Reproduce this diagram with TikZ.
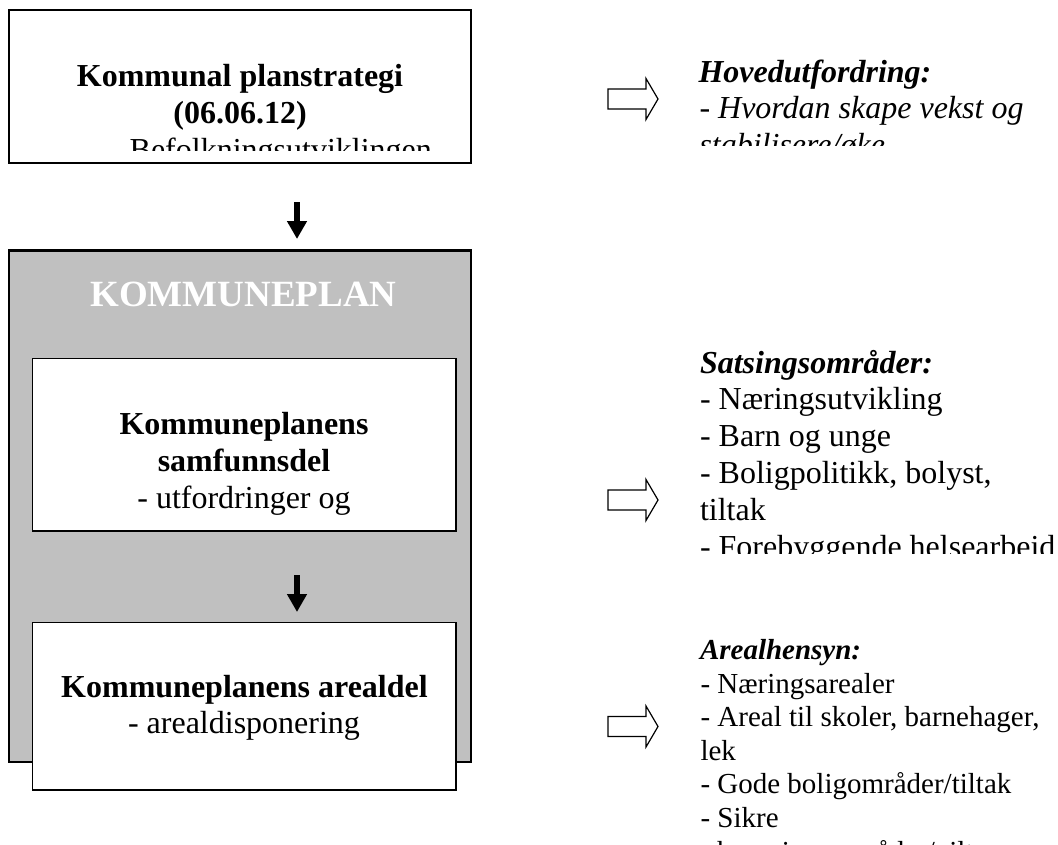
\documentclass[tikz,border=0pt]{standalone}
\usepackage{fontspec}
\setmainfont{Liberation Serif}
\usetikzlibrary{arrows.meta}
\definecolor{panelgray}{RGB}{192,192,192}
\begin{document}
\begin{tikzpicture}[x=1pt,y=-1pt,
  outerbox/.style={draw, line width=2.4pt, rectangle, inner sep=0pt, outer sep=0pt, anchor=north west},
  innerbox/.style={draw, line width=1.7pt, rectangle, inner sep=0pt, outer sep=0pt, anchor=north west, fill=white},
  big/.style={font=\fontsize{32}{36.8}\selectfont, inner sep=0pt, outer sep=0pt},
  small/.style={font=\fontsize{29}{33.6}\selectfont, inner sep=0pt, outer sep=0pt},
  downarrow/.style={line width=6pt, -{Triangle[length=18pt,width=19pt]}},
  hollowarrow/.pic={\draw[line width=1.2pt, fill=white, line join=miter]
     (0,-10)--(38,-10)--(38,-20.5)--(50,0)--(38,20.5)--(38,10)--(0,10)--cycle;}
]
\useasboundingbox (0,0) rectangle (1058,844);

% boxes
\node[outerbox, fill=white, minimum width=462pt, minimum height=153pt] (strat) at (9,10) {};
\node[outerbox, fill=panelgray, minimum width=462pt, minimum height=511.2pt] (plan) at (9,250.5) {};
\node[innerbox, minimum width=423.3pt, minimum height=172.5pt] (samf) at (32.5,358.5) {};
\node[innerbox, minimum width=423.3pt, minimum height=167.7pt] (areal) at (32.5,622.5) {};

% down arrows
\coordinate (a1s) at (297,202);
\coordinate (a1e) at (297,239);
\draw[downarrow] (a1s) -- (a1e);
\coordinate (a2s) at (297,575);
\coordinate (a2e) at (297,612);
\draw[downarrow] (a2s) -- (a2e);

% hollow arrows
\pic at (608,99) {hollowarrow};
\pic at (608,500) {hollowarrow};
\pic at (608,726.5) {hollowarrow};

% top box text
\begin{scope}
\clip (9,10) rectangle (471,150);
\node[big, anchor=base] (st1) at (240,86) {\textbf{Kommunal planstrategi}};
\node[big, anchor=base] (st2) at (240,123) {\textbf{(06.06.12)}};
\node[big, anchor=base west] (st3) at (111,160) {- Befolkningsutviklingen};
\end{scope}

% KOMMUNEPLAN
\node[inner sep=0pt, anchor=base, text=white, font=\fontsize{37}{42}\selectfont\bfseries] (kp) at (243.5,306.7) {KOMMUNEPLAN};

% samfunnsdel
\node[big, anchor=base] (sa1) at (244,434.3) {\textbf{Kommuneplanens}};
\node[big, anchor=base] (sa2) at (244,471.5) {\textbf{samfunnsdel}};
\node[big, anchor=base] (sa3) at (244,508.3) {- utfordringer og};

% arealdel
\node[big, anchor=base] (ar1) at (244.5,697) {\textbf{Kommuneplanens arealdel}};
\node[big, anchor=base] (ar2) at (244,733) {- arealdisponering};

% right top
\begin{scope}
\clip (680,30) rectangle (1058,145);
\node[big, anchor=base west] (h1) at (698.5,82) {\textbf{\textit{Hovedutfordring:}}};
\node[big, anchor=base west] (h2) at (699.5,118.8) {\textit{- Hvordan skape vekst og}};
\node[big, anchor=base west] (h3) at (699.5,155.6) {\textit{stabilisere/øke}};
\end{scope}

% right middle
\begin{scope}
\clip (680,330) rectangle (1058,553);
\node[big, anchor=base west] (s0) at (700,373) {\textbf{\textit{Satsingsområder:}}};
\node[big, anchor=base west] (s1) at (700,409.8) {- Næringsutvikling};
\node[big, anchor=base west] (s2) at (700,446.6) {- Barn og unge};
\node[big, anchor=base west] (s3) at (700,483.4) {- Boligpolitikk, bolyst,};
\node[big, anchor=base west] (s4) at (700,520.2) {tiltak};
\node[big, anchor=base west] (s5) at (700,557) {- Forebyggende helsearbeid};
\end{scope}

% right bottom
\begin{scope}
\clip (680,620) rectangle (1058,844);
\node[small, anchor=base west] (r0) at (700,659.5) {\textbf{\textit{Arealhensyn:}}};
\node[small, anchor=base west] (r1) at (700.5,693.1) {- Næringsarealer};
\node[small, anchor=base west] (r2) at (700.5,726.7) {- Areal til skoler, barnehager,};
\node[small, anchor=base west] (r3) at (700.5,760.3) {lek};
\node[small, anchor=base west] (r4) at (700.5,793.9) {- Gode boligområder/tiltak};
\node[small, anchor=base west] (r5) at (700.5,827.5) {- Sikre};
\node[small, anchor=base west] (r6) at (700.5,861.1) {- bevaringsområder/vilt};
\end{scope}
\end{tikzpicture}
\end{document}
